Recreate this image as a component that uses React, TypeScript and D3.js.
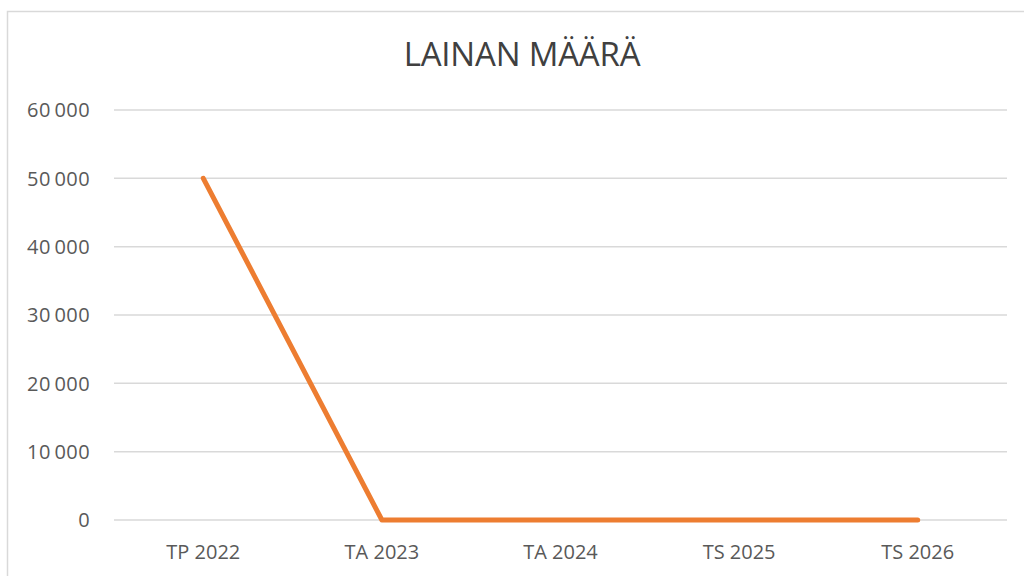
import React, { useRef, useEffect } from 'react';
import * as d3 from 'd3';

const categories: string[] = ['TP 2022', 'TA 2023', 'TA 2024', 'TS 2025', 'TS 2026'];
const loanValues: number[] = [50000, 0, 0, 0, 0];
const yTicks: number[] = [0, 10000, 20000, 30000, 40000, 50000, 60000];
const chartTitle = 'LAINAN MÄÄRÄ';

const App = () => {
  const svgRef = useRef<SVGSVGElement>(null);

  useEffect(() => {
    const svg = d3.select(svgRef.current);
    svg.selectAll('*').remove();

    const width = 1024;
    const height = 576;
    const margin = { top: 110, right: 17, bottom: 56, left: 114 };
    const font = "'Open Sans', 'Liberation Sans', sans-serif";

    // chart frame
    svg.append('rect')
      .attr('x', 7.5)
      .attr('y', 11.5)
      .attr('width', width + 10)
      .attr('height', height)
      .attr('fill', '#fff')
      .attr('stroke', '#d9d9d9')
      .attr('stroke-width', 1.5);

    const x = d3.scaleBand()
      .domain(categories)
      .range([margin.left, width - margin.right]);

    const y = d3.scaleLinear()
      .domain([0, 60000])
      .range([height - margin.bottom, margin.top]);

    const locale = d3.formatLocale({ decimal: ',', thousands: '\u2009', grouping: [3], currency: ['', '€'] });
    const fmt = locale.format(',d');

    // gridlines
    svg.append('g')
      .selectAll('line')
      .data(yTicks)
      .enter()
      .append('line')
      .attr('x1', margin.left)
      .attr('x2', width - margin.right)
      .attr('y1', (d) => y(d))
      .attr('y2', (d) => y(d))
      .attr('stroke', '#d9d9d9')
      .attr('stroke-width', 1.5);

    // y labels
    svg.append('g')
      .selectAll('text')
      .data(yTicks)
      .enter()
      .append('text')
      .attr('x', 90)
      .attr('y', (d) => y(d))
      .attr('dy', '0.36em')
      .attr('text-anchor', 'end')
      .style('font-family', font)
      .style('font-size', '20px')
      .style('letter-spacing', '0.4px')
      .attr('fill', '#595959')
      .text((d) => fmt(d));

    // x labels
    svg.append('g')
      .selectAll('text')
      .data(categories)
      .enter()
      .append('text')
      .attr('x', (d) => (x(d) as number) + x.bandwidth() / 2)
      .attr('y', 559)
      .attr('text-anchor', 'middle')
      .style('font-family', font)
      .style('font-size', '20px')
      .attr('fill', '#595959')
      .text((d) => d);

    // line
    const line = d3.line<number>()
      .x((d, i) => (x(categories[i]) as number) + x.bandwidth() / 2)
      .y((d) => y(d));

    svg.append('path')
      .datum(loanValues)
      .attr('fill', 'none')
      .attr('stroke', '#ED7D31')
      .attr('stroke-width', 5)
      .attr('stroke-linecap', 'round')
      .attr('stroke-linejoin', 'round')
      .attr('d', line);

    // title
    svg.append('text')
      .attr('x', 522)
      .attr('y', 66)
      .attr('text-anchor', 'middle')
      .style('font-family', font)
      .style('font-size', '33px')
      .style('letter-spacing', '-0.2px')
      .attr('fill', '#404040')
      .text(chartTitle);
  }, []);

  return (
    <svg
      ref={svgRef}
      width={1024}
      height={576}
      style={{ position: 'absolute', left: 0, top: 0, background: '#fff' }}
    />
  );
};

export default App;
